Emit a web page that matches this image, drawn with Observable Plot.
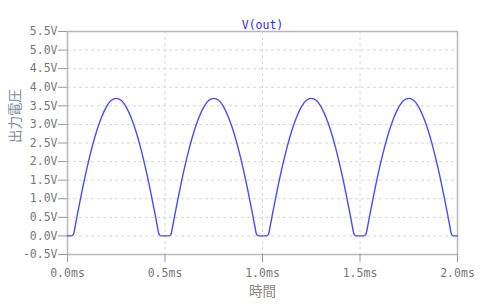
<!DOCTYPE html>
<html>
<head>
<meta charset="utf-8">
<script src="https://cdn.jsdelivr.net/npm/d3@7"></script>
<script src="https://cdn.jsdelivr.net/npm/@observablehq/plot@0.6"></script>
<style>
  html, body { margin: 0; padding: 0; background: #fff; }
  #chart svg { display: block; }
</style>
</head>
<body>
<div id="chart"></div>
<script>
const title = "V(out)";
const xLabel = "時間";
const yLabel = "出力電圧";
const xTicks = [0, 0.5, 1.0, 1.5, 2.0];
const yTicks = [-0.5, 0, 0.5, 1.0, 1.5, 2.0, 2.5, 3.0, 3.5, 4.0, 4.5, 5.0, 5.5];

// time in ms
const timeMs = [
  0, 0.02, 0.03, 0.04, 0.05, 0.075, 0.1, 0.125, 0.15, 0.175, 0.2, 0.225, 0.25, 0.275, 0.3, 0.325, 0.35, 0.375, 0.4, 0.425, 0.45, 0.46, 0.47, 0.48,
  0.5, 0.52, 0.53, 0.54, 0.55, 0.575, 0.6, 0.625, 0.65, 0.675, 0.7, 0.725, 0.75, 0.775, 0.8, 0.825, 0.85, 0.875, 0.9, 0.925, 0.95, 0.96, 0.97, 0.98,
  1.0, 1.02, 1.03, 1.04, 1.05, 1.075, 1.1, 1.125, 1.15, 1.175, 1.2, 1.225, 1.25, 1.275, 1.3, 1.325, 1.35, 1.375, 1.4, 1.425, 1.45, 1.46, 1.47, 1.48,
  1.5, 1.52, 1.53, 1.54, 1.55, 1.575, 1.6, 1.625, 1.65, 1.675, 1.7, 1.725, 1.75, 1.775, 1.8, 1.825, 1.85, 1.875, 1.9, 1.925, 1.95, 1.96, 1.97, 1.98,
  2.0
];
// output voltage in V
const vOut = [
  0, 0, 0.04, 0.28, 0.56, 1.22, 1.83, 2.37, 2.83, 3.20, 3.48, 3.65, 3.70, 3.65, 3.48, 3.20, 2.83, 2.37, 1.83, 1.22, 0.56, 0.28, 0.04, 0,
  0, 0, 0.04, 0.28, 0.56, 1.22, 1.83, 2.37, 2.83, 3.20, 3.48, 3.65, 3.70, 3.65, 3.48, 3.20, 2.83, 2.37, 1.83, 1.22, 0.56, 0.28, 0.04, 0,
  0, 0, 0.04, 0.28, 0.56, 1.22, 1.83, 2.37, 2.83, 3.20, 3.48, 3.65, 3.70, 3.65, 3.48, 3.20, 2.83, 2.37, 1.83, 1.22, 0.56, 0.28, 0.04, 0,
  0, 0, 0.04, 0.28, 0.56, 1.22, 1.83, 2.37, 2.83, 3.20, 3.48, 3.65, 3.70, 3.65, 3.48, 3.20, 2.83, 2.37, 1.83, 1.22, 0.56, 0.28, 0.04, 0,
  0
];

const data = timeMs.map((t, i) => ({t, v: vOut[i]}));
const mono = "'DejaVu Sans Mono', 'Liberation Mono', monospace";
const tickColor = "#777";

const chart = Plot.plot({
  width: 499,
  height: 306,
  marginLeft: 67,
  marginRight: 42,
  marginTop: 31,
  marginBottom: 52,
  style: {fontFamily: mono, fontSize: "11.5px", background: "#fff", overflow: "visible"},
  x: {domain: [0, 2.0], label: null},
  y: {domain: [-0.5, 5.5], label: null},
  marks: [
    Plot.gridX(xTicks, {stroke: "#d6d6d6", strokeOpacity: 1, strokeDasharray: "3,3"}),
    Plot.gridY(yTicks, {stroke: "#d6d6d6", strokeOpacity: 1, strokeDasharray: "3,3"}),
    Plot.frame({stroke: "#b8b8b8", strokeWidth: 1.5}),
    Plot.axisX(xTicks, {tickFormat: d => d.toFixed(1) + "ms", tickSize: 8, tickPadding: 6, stroke: "#999", color: tickColor, fontSize: 11.5, fontFamily: mono}),
    Plot.axisY(yTicks, {tickFormat: d => d.toFixed(1) + "V", tickSize: 9, tickPadding: 1, stroke: "#999", color: tickColor, fontSize: 11.5, fontFamily: mono}),
    Plot.line(data, {x: "t", y: "v", stroke: "#4a4aff", strokeWidth: 1.4, curve: "monotone-x"}),
    Plot.text([title], {frameAnchor: "top", dy: -11, fill: "#2b2bff", fontSize: 11.5, fontFamily: mono}),
    Plot.text([xLabel], {frameAnchor: "bottom", dy: 41, fill: "#8f857d", fontSize: 13.5, fontFamily: "'Noto Sans CJK JP', sans-serif"}),
    Plot.text([yLabel], {frameAnchor: "left", dx: -52, rotate: -90, fill: "#7d8a99", fontSize: 13.5, fontFamily: "'Noto Sans CJK JP', sans-serif"})
  ]
});
document.getElementById("chart").appendChild(chart);
</script>
</body>
</html>
